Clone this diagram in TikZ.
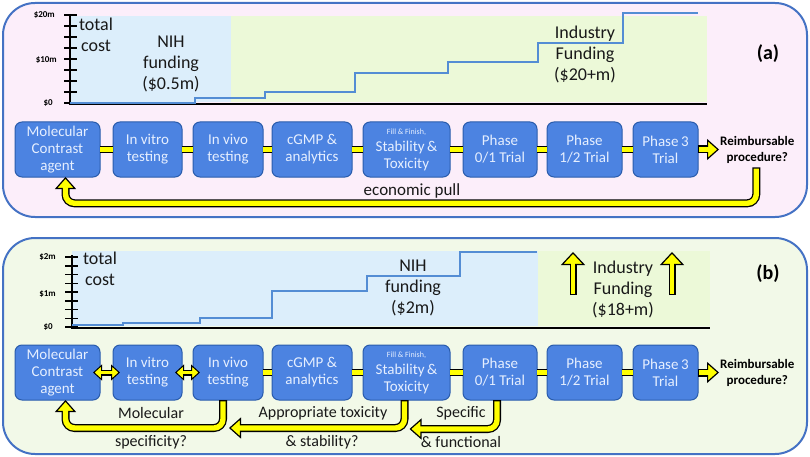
\documentclass[tikz,border=0pt]{standalone}
\usepackage{fontspec}
\setmainfont{Carlito}
\usetikzlibrary{arrows.meta,positioning}
\definecolor{frameblue}{RGB}{68,114,196}
\definecolor{pinkpanel}{RGB}{252,238,250}
\definecolor{greenpanel}{RGB}{242,249,232}
\definecolor{nihbg}{RGB}{220,238,251}
\definecolor{indbg}{RGB}{236,249,216}
\definecolor{costblue}{RGB}{84,141,212}
\definecolor{boxblue}{RGB}{76,131,225}
\definecolor{boxedge}{RGB}{42,92,172}
\definecolor{boxtext}{RGB}{230,239,255}
\definecolor{pullyellow}{RGB}{255,255,0}
\tikzstyle{panel} = [draw=frameblue, line width=2pt, rounded corners=32pt]
\tikzstyle{stage} = [rectangle, rounded corners=7pt, draw=boxedge, line width=1pt, fill=boxblue, text=boxtext, align=center, font=\fontsize{15}{17}\selectfont, minimum height=55pt, inner sep=1pt, outer sep=0pt]
\tikzstyle{link}  = [line width=7pt, draw=black, postaction={draw=pullyellow, line width=4.4pt}]
\tikzstyle{fat}   = [line width=8pt, draw=black, rounded corners=9pt, -{Triangle[length=12pt, width=21pt, fill=pullyellow, line width=1.2pt]}, postaction={draw=pullyellow, line width=5.4pt, -, shorten >=10pt, shorten <=1.3pt}]
\tikzstyle{lift}  = [line width=7pt, draw=black, -{Triangle[length=13pt, width=24pt, fill=pullyellow, line width=1.2pt]}, postaction={draw=pullyellow, line width=4.4pt, -, shorten >=11pt, shorten <=1.3pt}]
\tikzstyle{dbl}   = [line width=6pt, draw=black, {Triangle[length=9pt, width=16pt, fill=pullyellow, line width=1pt]}-{Triangle[length=9pt, width=16pt, fill=pullyellow, line width=1pt]}, postaction={draw=pullyellow, line width=3.8pt, -, shorten >=7.5pt, shorten <=7.5pt}]
\tikzstyle{axlbl} = [anchor=east, inner sep=1pt, font=\bfseries\fontsize{9}{10}\selectfont]
\tikzstyle{big}   = [align=center, inner sep=1pt, text=black!90, font=\fontsize{18}{21}\selectfont]
\tikzstyle{lbl}   = [inner sep=1pt, text=black!90, font=\fontsize{16}{18}\selectfont]
\tikzstyle{goal}  = [align=center, inner sep=1pt, font=\bfseries\fontsize{13}{16}\selectfont]
\tikzstyle{cost}  = [draw=costblue, line width=2pt]

\begin{document}
\begin{tikzpicture}[x=1pt, y=-1pt]
\useasboundingbox (0,0) rectangle (810,457);

% panel (a) =============================
\draw[panel, fill=pinkpanel] (3,3) rectangle (807,217);
\fill[nihbg] (70,16) rectangle (231,102);
\fill[indbg] (231,16) rectangle (707,102);
\foreach \k in {0,...,8} \draw[line width=1.5pt] (64,{15+11*\k}) -- (77,{15+11*\k});
\draw[line width=2.5pt] (70,14) -- (70,104) -- (707,104);
\draw[cost] (70,103) -- (195,103) -- (195,98) -- (265,98) -- (265,92) -- (355,92) -- (355,73) -- (448,73) -- (448,62) -- (538,62) -- (538,43) -- (623,43) -- (623,13) -- (698,13);
\node[axlbl] (a20) at (56,15) {\$20m};
\node[axlbl] (a10) at (58,60) {\$10m};
\node[axlbl] (a0) at (54,103) {\$0};
\node[big] (costa) at (96,35) {total\\cost};
\node[big] (niha) at (171,64) {NIH\\funding\\(\$0.5m)};
\node[big] (inda) at (585,55) {Industry\\Funding\\(\$20+m)};
\node[font=\bfseries\fontsize{20}{22}\selectfont] (taga) at (768,54) {(a)};

\node[stage, minimum width=85pt] (mola) at (57.5,149.5) {Molecular\\Contrast\\agent};
\node[stage, minimum width=69pt, right=13pt of mola] (vitroa) {In vitro\\testing};
\node[stage, minimum width=70pt, right=11pt of vitroa] (vivoa) {In vivo\\testing};
\node[stage, minimum width=80pt, right=9pt of vivoa] (cgmpa) {cGMP \&\\analytics};
\node[stage, minimum width=87pt, right=11pt of cgmpa] (filla) {{\fontsize{8}{9}\selectfont Fill \& Finish,}\\Stability\,\&\\Toxicity};
\node[stage, minimum width=74pt, right=13pt of filla] (ph01a) {Phase\\0/1 Trial};
\node[stage, minimum width=75pt, right=10pt of ph01a] (ph12a) {Phase\\1/2 Trial};
\node[stage, minimum width=65pt, right=11pt of ph12a] (ph3a) {Phase\,3\\Trial};
\node[goal, right=21pt of ph3a] (reima) {Reimbursable\\procedure?};

% links
\draw[link] (mola.east) -- (vitroa.west);
\draw[link] (vitroa.east) -- (vivoa.west);
\draw[link] (vivoa.east) -- (cgmpa.west);
\draw[link] (cgmpa.east) -- (filla.west);
\draw[link] (filla.east) -- (ph01a.west);
\draw[link] (ph01a.east) -- (ph12a.west);
\draw[link] (ph12a.east) -- (ph3a.west);
\draw[fat] (ph3a.east) -- (reima.west);
\draw[fat] ([xshift=-1pt,yshift=-3pt]reima.south) -- ++(0,36) -| ([xshift=8pt]mola.south);
\node[lbl, font=\fontsize{17}{19}\selectfont] (pull) at (412,191) {economic pull};

% panel (b) =============================
\draw[panel, fill=greenpanel] (3,238) rectangle (807,454);
\fill[nihbg] (72,251) rectangle (538,326);
\fill[indbg] (538,251) rectangle (710,326);
\foreach \k in {0,...,8} \draw[line width=1.5pt] (65,{257+8.75*\k}) -- (78,{257+8.75*\k});
\draw[line width=2.5pt] (72,255) -- (72,328) -- (710,328);
\draw[cost] (72,325) -- (123,325) -- (123,323) -- (200,323) -- (200,318) -- (272,318) -- (272,291) -- (367,291) -- (367,276) -- (460,276) -- (460,252) -- (537,252);
\node[axlbl] (b2) at (57,257) {\$2m};
\node[axlbl] (b1) at (57,294) {\$1m};
\node[axlbl] (b0) at (54,327) {\$0};
\node[big] (costb) at (100,269) {total\\cost};
\node[big] (nihb) at (413,288) {NIH\\funding\\(\$2m)};
\node[big] (indb) at (623,289) {Industry\\Funding\\(\$18+m)};
\node[font=\bfseries\fontsize{20}{22}\selectfont] (tagb) at (768,274) {(b)};
\coordinate (upl0) at (573,295);
\coordinate (upl1) at (573,252);
\coordinate (upr0) at (672,295);
\coordinate (upr1) at (672,252);
\draw[lift] (upl0) -- (upl1);
\draw[lift] (upr0) -- (upr1);

\node[stage, minimum width=85pt] (molb) at (57.5,372.5) {Molecular\\Contrast\\agent};
\node[stage, minimum width=69pt, right=13pt of molb] (vitrob) {In vitro\\testing};
\node[stage, minimum width=70pt, right=11pt of vitrob] (vivob) {In vivo\\testing};
\node[stage, minimum width=80pt, right=9pt of vivob] (cgmpb) {cGMP \&\\analytics};
\node[stage, minimum width=87pt, right=11pt of cgmpb] (fillb) {{\fontsize{8}{9}\selectfont Fill \& Finish,}\\Stability\,\&\\Toxicity};
\node[stage, minimum width=74pt, right=13pt of fillb] (ph01b) {Phase\\0/1 Trial};
\node[stage, minimum width=75pt, right=10pt of ph01b] (ph12b) {Phase\\1/2 Trial};
\node[stage, minimum width=65pt, right=11pt of ph12b] (ph3b) {Phase\,3\\Trial};
\node[goal, right=21pt of ph3b] (reimb) {Reimbursable\\procedure?};

% links
\draw[dbl] ([xshift=-7pt]molb.east) -- ([xshift=7pt]vitrob.west);
\draw[dbl] ([xshift=-7pt]vitrob.east) -- ([xshift=7pt]vivob.west);
\draw[link] (vivob.east) -- (cgmpb.west);
\draw[link] (cgmpb.east) -- (fillb.west);
\draw[link] (fillb.east) -- (ph01b.west);
\draw[link] (ph01b.east) -- (ph12b.west);
\draw[link] (ph12b.east) -- (ph3b.west);
\draw[fat] (ph3b.east) -- (reimb.west);

% feedback
\coordinate (vivofoot) at ([xshift=1pt]vivob.south);
\coordinate (fillfoot) at ([xshift=3pt]fillb.south);
\draw[fat] ([xshift=-5pt]vivob.south) -- ++(0,28) -| ([xshift=8pt]molb.south);
\draw[fat] ([xshift=-2pt]fillb.south) -- ++(0,28) coordinate (turnb) -- (turnb -| vivofoot);
\draw[fat] ([xshift=-3pt]ph01b.south) -- ++(0,29) coordinate (turnc) -- (turnc -| fillfoot);
\node[lbl] (spec1) at (151,413) {Molecular};
\node[lbl] (spec2) at (151,442) {specificity?};
\node[lbl] (tox1) at (323,413) {Appropriate toxicity};
\node[lbl] (tox2) at (322,442) {\& stability?};
\node[lbl] (func1) at (461,413) {Specific};
\node[lbl] (func2) at (461,442) {\& functional};

\end{tikzpicture}
\end{document}
